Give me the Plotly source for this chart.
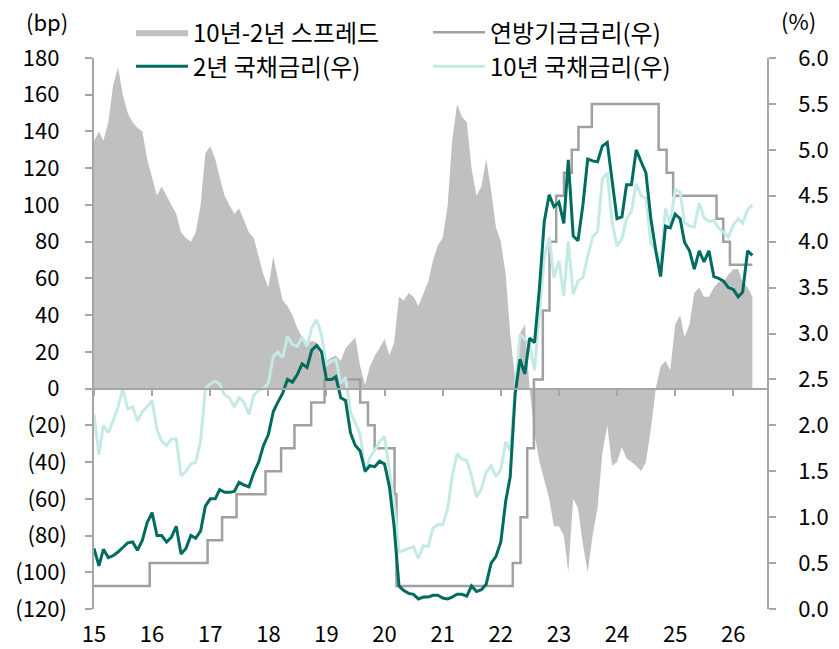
import pandas as pd
import plotly.graph_objects as go

# ---------------- data ----------------
months = pd.date_range("2015-01-01", "2026-05-01", freq="MS")

spread_bp = [
    135, 140, 135, 145, 165, 175, 160, 150, 145, 142, 140, 125,    # 2015
    115, 105, 110, 105, 100, 95, 85, 82, 80, 85, 100, 128,         # 2016
    132, 125, 115, 105, 100, 95, 98, 92, 85, 82, 72, 62,           # 2017
    55, 72, 60, 48, 45, 40, 33, 28, 24, 26, 25, 15,                # 2018
    15, 17, 18, 15, 22, 25, 28, 12, 2, 12, 18, 22,                 # 2019
    27, 18, 25, 50, 48, 52, 50, 45, 52, 58, 70, 78,                # 2020
    82, 100, 135, 155, 148, 145, 120, 105, 110, 125, 108, 88,      # 2021
    80, 62, 30, 5, 30, 35, 0, -25, -40, -50, -60, -75,             # 2022
    -75, -80, -100, -60, -65, -85, -100, -80, -65, -35, -20, -42,  # 2023
    -40, -32, -38, -40, -42, -45, -40, -22, 0, 12, 15, 10,         # 2024
    35, 40, 28, 35, 52, 55, 50, 50, 55, 58, 58, 62,                # 2025
    65, 65, 58, 55, 50,                                            # 2026
]

ust2y = [
    0.66, 0.47, 0.65, 0.56, 0.58, 0.62, 0.67, 0.72, 0.73, 0.64, 0.75, 0.94,
    1.05, 0.80, 0.80, 0.73, 0.78, 0.90, 0.60, 0.66, 0.80, 0.77, 0.85, 1.12,
    1.20, 1.20, 1.30, 1.27, 1.27, 1.28, 1.38, 1.35, 1.33, 1.48, 1.60, 1.78,
    1.90, 2.15, 2.25, 2.35, 2.50, 2.47, 2.55, 2.67, 2.63, 2.82, 2.87, 2.80,
    2.50, 2.50, 2.53, 2.30, 2.27, 1.92, 1.78, 1.72, 1.50, 1.56, 1.55, 1.61,
    1.58, 1.33, 0.90, 0.25, 0.20, 0.17, 0.16, 0.11, 0.13, 0.13, 0.15, 0.15,
    0.12, 0.11, 0.13, 0.16, 0.16, 0.14, 0.25, 0.19, 0.21, 0.27, 0.50, 0.57,
    0.73, 1.18, 1.44, 2.34, 2.72, 2.56, 2.95, 2.90, 3.50, 4.22, 4.51, 4.38,
    4.43, 4.20, 4.89, 4.06, 4.01, 4.40, 4.90, 4.88, 4.87, 5.04, 5.08, 4.68,
    4.25, 4.27, 4.62, 4.62, 5.00, 4.87, 4.75, 4.25, 3.90, 3.62, 4.17, 4.15,
    4.30, 4.25, 3.99, 3.90, 3.70, 3.90, 3.78, 3.90, 3.62, 3.60, 3.57, 3.50,
    3.48, 3.40, 3.45, 3.90, 3.85,
]

ust10y = [
    2.12, 1.68, 2.00, 1.92, 2.05, 2.20, 2.40, 2.18, 2.20, 2.05, 2.15, 2.20,
    2.27, 1.95, 1.83, 1.78, 1.85, 1.85, 1.45, 1.50, 1.58, 1.60, 1.83, 2.40,
    2.45, 2.48, 2.45, 2.33, 2.30, 2.20, 2.30, 2.25, 2.12, 2.33, 2.38, 2.40,
    2.46, 2.75, 2.80, 2.74, 2.97, 2.88, 2.86, 2.96, 2.86, 3.06, 3.15, 2.98,
    2.66, 2.70, 2.72, 2.46, 2.52, 2.14, 2.03, 1.90, 1.48, 1.65, 1.73, 1.82,
    1.88, 1.51, 1.15, 0.62, 0.64, 0.66, 0.68, 0.55, 0.69, 0.68, 0.88, 0.92,
    0.92, 1.09, 1.44, 1.69, 1.63, 1.62, 1.45, 1.22, 1.31, 1.49, 1.56, 1.44,
    1.52, 1.82, 1.72, 2.39, 2.99, 2.94, 2.88, 2.60, 3.26, 3.83, 4.05, 3.61,
    3.79, 3.41, 4.00, 3.43, 3.57, 3.61, 3.84, 4.05, 4.11, 4.68, 4.75, 4.22,
    3.95, 4.03, 4.25, 4.33, 4.63, 4.50, 4.47, 3.98, 3.91, 3.74, 4.36, 4.19,
    4.57, 4.54, 4.21, 4.17, 4.16, 4.42, 4.26, 4.22, 4.23, 4.15, 4.10, 4.05,
    4.18, 4.25, 4.20, 4.35, 4.40,
]

fed_dates = [
    "2015-01-01", "2015-12-17", "2016-12-15", "2017-03-16", "2017-06-15",
    "2017-12-14", "2018-03-22", "2018-06-14", "2018-09-27", "2018-12-20",
    "2019-08-01", "2019-09-19", "2019-10-31", "2020-03-04", "2020-03-16",
    "2022-03-17", "2022-05-05", "2022-06-16", "2022-07-28", "2022-09-22",
    "2022-11-03", "2022-12-15", "2023-02-02", "2023-03-23", "2023-05-04",
    "2023-07-27", "2024-09-19", "2024-11-08", "2024-12-19", "2025-09-18",
    "2025-10-30", "2025-12-11", "2026-05-01",
]
fed_rate = [
    0.25, 0.50, 0.75, 1.00, 1.25,
    1.50, 1.75, 2.00, 2.25, 2.50,
    2.25, 2.00, 1.75, 1.25, 0.25,
    0.50, 1.00, 1.75, 2.50, 3.25,
    4.00, 4.50, 4.75, 5.00, 5.25,
    5.50, 5.00, 4.75, 4.50, 4.25,
    4.00, 3.75, 3.75,
]

left_tickvals = list(range(-120, 181, 20))
# accounting style: positives keep an invisible ")" so digits line up
left_ticktext = [f"({abs(v)})" if v < 0 else f"{v}<span style='color:white'>)</span>"
                 for v in left_tickvals]

names = ["10년-2년 스프레드", "연방기금금리(우)", "2년 국채금리(우)", "10년 국채금리(우)"]

# ---------------- styles ----------------
FONT = "Noto Sans CJK KR"
AXIS_C = "#a6a6a6"
C_SPREAD = "#c0c0c0"
C_FED = "#a0a0a0"
C_2Y = "#006b5e"
C_10Y = "#c5eae5"
X_RANGE = ["2015-01-01", "2026-08-01"]

fig = go.Figure()
fig.add_trace(go.Scatter(
    x=months, y=spread_bp, name=names[0], mode="lines", fill="tozeroy",
    fillcolor=C_SPREAD, line=dict(width=0, color=C_SPREAD),
    xaxis="x", yaxis="y", legendrank=1))
fig.add_trace(go.Scatter(
    x=fed_dates, y=fed_rate, name=names[1], mode="lines", line_shape="hv",
    line=dict(color=C_FED, width=2.5), xaxis="x", yaxis="y2", legendrank=2))
fig.add_trace(go.Scatter(
    x=months, y=ust10y, name=names[3], mode="lines",
    line=dict(color=C_10Y, width=3), xaxis="x", yaxis="y2", legendrank=4))
fig.add_trace(go.Scatter(
    x=months, y=ust2y, name=names[2], mode="lines",
    line=dict(color=C_2Y, width=3), xaxis="x", yaxis="y2", legendrank=3))
# helper (empty) trace so the zero-line x axis gets drawn
fig.add_trace(go.Scatter(x=[months[0]], y=[None], xaxis="x2", yaxis="y",
                         showlegend=False, hoverinfo="skip", mode="lines"))

tickfont = dict(family=FONT, size=22, color="#000000")

fig.update_layout(
    width=839, height=649,
    margin=dict(l=94, r=72, t=58, b=40, autoexpand=False),
    paper_bgcolor="white", plot_bgcolor="white",
    font=dict(family=FONT, size=22, color="#000000"),
    showlegend=True,
    legend=dict(orientation="h", x=0.055, xanchor="left", y=1.087, yanchor="top",
                entrywidth=230, entrywidthmode="pixels",
                font=dict(family=FONT, size=24, color="#000000"),
                bgcolor="rgba(0,0,0,0)", itemwidth=52),
    xaxis=dict(type="date", range=X_RANGE, tickformat="%y", dtick="M12",
               tick0="2015-01-01", showline=False, ticks="", showgrid=False,
               zeroline=False, tickfont=tickfont, ticklabelstandoff=10,
               automargin=False),
    xaxis2=dict(type="date", range=X_RANGE, overlaying="x", anchor="free",
                position=0.4, dtick="M12", tick0="2015-01-01",
                showline=True, linecolor=AXIS_C, linewidth=1.5,
                ticks="outside", ticklen=7, tickcolor=AXIS_C, tickwidth=1.5,
                showticklabels=False, showgrid=False, zeroline=False,
                automargin=False),
    yaxis=dict(range=[-120, 180], tickvals=left_tickvals, ticktext=left_ticktext,
               showline=True, linecolor=AXIS_C, linewidth=1.5,
               ticks="outside", ticklen=7, tickcolor=AXIS_C, tickwidth=1.5,
               showgrid=False, zeroline=False, tickfont=tickfont,
               ticklabelstandoff=14, automargin=False),
    yaxis2=dict(range=[0, 6], dtick=0.5, tick0=0, tickformat=".1f",
                overlaying="y", side="right",
                showline=True, linecolor=AXIS_C, linewidth=1.5,
                ticks="outside", ticklen=7, tickcolor=AXIS_C, tickwidth=1.5,
                showgrid=False, zeroline=False, tickfont=tickfont,
                ticklabelstandoff=18, automargin=False),
    annotations=[
        dict(text="(bp)", xref="paper", yref="paper", x=-0.0698, y=1.067,
             xanchor="center", yanchor="middle",
             showarrow=False, font=dict(family=FONT, size=22)),
        dict(text="(%)", xref="paper", yref="paper", x=1.0475, y=1.069,
             xanchor="center", yanchor="middle",
             showarrow=False, font=dict(family=FONT, size=22)),
    ],
)

fig.write_html("out.html", config={"displayModeBar": False},
               post_script="document.body.style.margin='0';")
